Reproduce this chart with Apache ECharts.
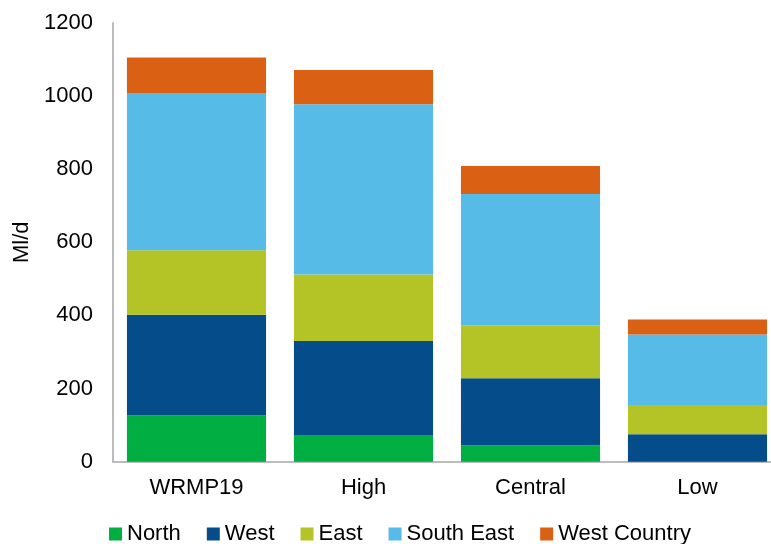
<!DOCTYPE html>
<html>
<head>
<meta charset="utf-8">
<script src="https://cdn.jsdelivr.net/npm/echarts@6/dist/echarts.min.js"></script>
<style>html,body{margin:0;padding:0;background:#fff}#c{width:771px;height:544px}</style>
</head>
<body>
<div id="c"></div>
<script>
var categories = ['WRMP19', 'High', 'Central', 'Low'];
var north = [127, 73, 44, 0];
var west = [275, 257, 184, 75];
var east = [176, 182, 145, 80];
var southEast = [430, 465, 359, 193];
var westCountry = [97, 94, 76, 41];
var yTicks = [0, 200, 400, 600, 800, 1000, 1200];

var seriesNames = ['North', 'West', 'East', 'South East', 'West Country'];
var seriesData = [north, west, east, southEast, westCountry];
var colors = ['#00AE41', '#054C8A', '#B4C325', '#56BBE6', '#DA6014'];

var chart = echarts.init(document.getElementById('c'), null, {renderer: 'canvas'});
var font = '"Liberation Sans", Arial, sans-serif';
chart.setOption({
  animation: false,
  color: colors,
  textStyle: {fontFamily: font},
  grid: {left: 113, width: 668, top: 22.7, bottom: 82.3, containLabel: false, outerBoundsMode: 'none'},
  legend: {
    left: 104,
    top: 518,
    itemWidth: 13,
    itemHeight: 13,
    itemGap: 26,
    icon: 'rect',
    data: seriesNames,
    textStyle: {fontSize: 22, color: '#000', fontFamily: font}
  },
  xAxis: {
    type: 'category',
    data: categories,
    axisLine: {lineStyle: {color: '#a6a6a6', width: 1.5}},
    axisTick: {show: false},
    axisLabel: {fontSize: 22, color: '#000', margin: 15, fontFamily: font}
  },
  yAxis: {
    type: 'value',
    min: yTicks[0],
    max: yTicks[yTicks.length - 1],
    interval: yTicks[1] - yTicks[0],
    name: 'Ml/d',
    nameLocation: 'middle',
    nameGap: 72,
    nameTextStyle: {fontSize: 22, color: '#000', fontFamily: font},
    axisLine: {show: true, lineStyle: {color: '#a6a6a6', width: 1.5}},
    axisTick: {show: false},
    splitLine: {show: false},
    axisLabel: {fontSize: 22, color: '#000', margin: 20, fontFamily: font,
      formatter: function (v) { return String(v); }}
  },
  series: seriesNames.map(function (n, i) {
    return {
      name: n,
      type: 'bar',
      stack: 'total',
      data: seriesData[i],
      barCategoryGap: '16.7%',
      itemStyle: {color: colors[i]}
    };
  })
});
</script>
</body>
</html>
